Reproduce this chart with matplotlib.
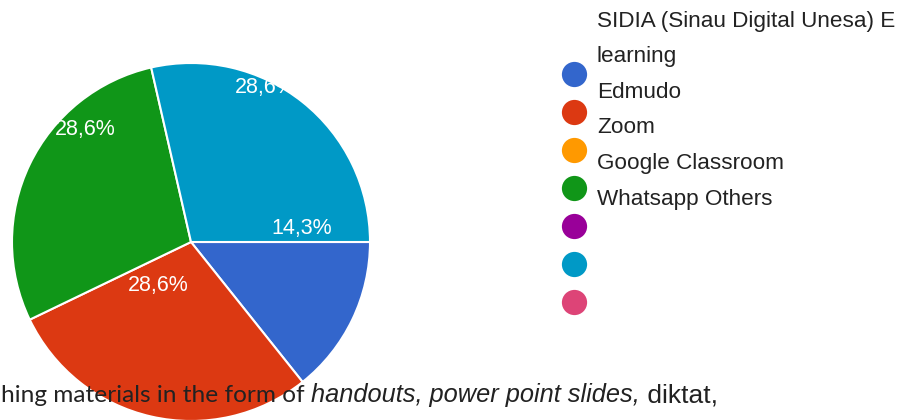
import matplotlib

matplotlib.use("Agg")
import matplotlib.pyplot as plt

# data
categories = [
    "SIDIA (Sinau Digital Unesa) E-learning",
    "Edmudo",
    "Zoom",
    "Google Classroom",
    "Whatsapp",
    "Others",
    "",
]
counts = [1, 2, 0, 2, 0, 2, 0]
colors = ["#3366CC", "#DC3912", "#FF9900", "#109618", "#990099", "#0099C6", "#DD4477"]
legend_lines = [
    "SIDIA (Sinau Digital Unesa) E",
    "learning",
    "Edmudo",
    "Zoom",
    "Google Classroom",
    "Whatsapp Others",
]
caption_parts = [
    ("hing materials in the form of ", "normal"),
    ("handouts, power point slides,", "italic"),
    (" diktat,", "normal"),
]

# label anchor points in pixel coords (the screenshot has them shifted)
label_pos = {0: (302, 229), 1: (158, 285), 3: (85, 130), 5: (235, 87)}

W, H = 901, 420
fig = plt.figure(figsize=(W / 100, H / 100), dpi=100)

cx, cy, r = 191, 242, 179
ax = fig.add_axes([(cx - r) / W, (H - cy - r) / H, 2 * r / W, 2 * r / H])
ax.axis("off")

idx = [i for i, v in enumerate(counts) if v > 0]
wedges, _ = ax.pie(
    [counts[i] for i in idx],
    colors=[colors[i] for i in idx],
    startangle=0,
    counterclock=False,
    radius=1.0,
    wedgeprops=dict(edgecolor="white", linewidth=1.5),
)
ax.set_xlim(-1, 1)
ax.set_ylim(-1, 1)

total = sum(counts)
sans = ["Liberation Sans", "DejaVu Sans"]
for w, i in zip(wedges, idx):
    pct = f"{counts[i] / total * 100:.1f}%".replace(".", ",")
    px, py = label_pos[i]
    ha = "left" if i == 5 else "center"
    t = fig.text(px / W, 1 - py / H, pct, color="white", fontsize=15.5,
                 family=sans, ha=ha, va="center")
    if i == 5:
        t.set_clip_path(w)

# legend
ov = fig.add_axes([0, 0, 1, 1], facecolor="none")
ov.set_xlim(0, W)
ov.set_ylim(H, 0)
ov.axis("off")
for k, c in enumerate(colors):
    ov.scatter(574, 74 + k * 38, s=330, color=c, linewidths=0)
for k, line in enumerate(legend_lines):
    ov.text(597, 21 + k * 35.6, line, color="#222222", fontsize=16.2,
            family=sans, ha="left", va="center", clip_on=False)

# caption overlapping the chart
x = 1
for n, (text, style) in enumerate(caption_parts):
    if n == 0:
        fam, size = ["Lato", "DejaVu Sans"], 17.6
    elif style == "italic":
        fam, size = sans, 18.3
    else:
        fam, size = sans, 19
    t = ov.text(x, 402, text, color="#222222", fontsize=size, family=fam,
                style=style, ha="left", va="baseline", zorder=10)
    fig.canvas.draw()
    x = t.get_window_extent().x1

fig.savefig("out.png", dpi=100)
